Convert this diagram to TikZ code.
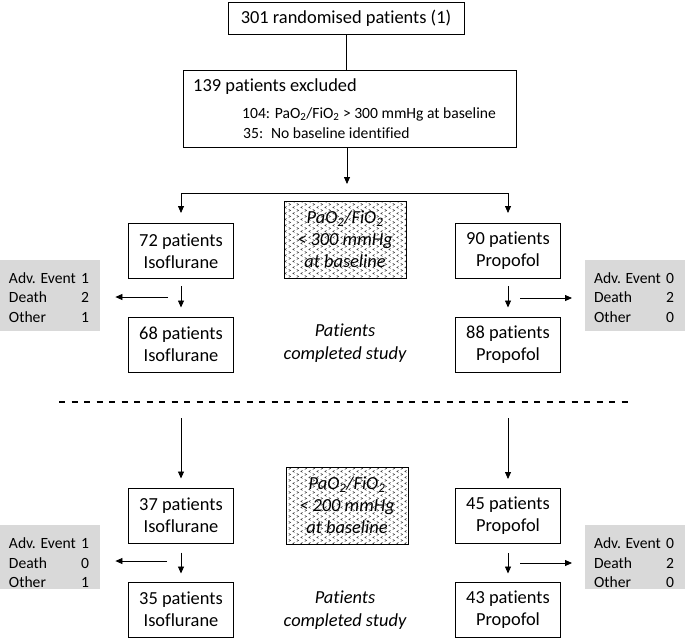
\documentclass[tikz,border=0pt]{standalone}
\usepackage{fontspec}
\setmainfont[Ligatures=NoCommon]{Carlito}
\usetikzlibrary{arrows.meta,patterns}
\pgfdeclarepatternformonly{chev}{\pgfpoint{-1pt}{-1pt}}{\pgfpoint{9pt}{7pt}}{\pgfpoint{8pt}{6pt}}{%
  \pgfsetlinewidth{0.45pt}%
  \pgfpathmoveto{\pgfpoint{0.8pt}{0.6pt}}\pgfpathlineto{\pgfpoint{2.6pt}{1.6pt}}\pgfpathlineto{\pgfpoint{0.8pt}{2.6pt}}%
  \pgfpathmoveto{\pgfpoint{6.6pt}{3.6pt}}\pgfpathlineto{\pgfpoint{4.8pt}{4.6pt}}\pgfpathlineto{\pgfpoint{6.6pt}{5.6pt}}%
  \pgfusepath{stroke}%
}
\newcommand{\grow}[2]{\makebox[80pt]{#1\hfill #2}}
\begin{document}
\begin{tikzpicture}[x=1pt,y=-1pt,
  box/.style={draw, line width=1pt, minimum width=105pt, minimum height=55pt, inner sep=0pt, align=center, font=\fontsize{18.4}{22}\selectfont},
  hatch/.style={draw, line width=0.8pt, pattern=chev, pattern color=black!80, minimum width=122pt, minimum height=77pt, inner sep=0pt, align=center, font=\fontsize{18.4}{22}\selectfont\itshape},
  graybox/.style={fill=black!15, draw=none, inner sep=0pt, anchor=north west},
  gtext/.style={align=left, inner sep=0pt, font=\fontsize{15.6}{19.5}\selectfont},
  ctext/.style={align=center, inner sep=0pt, font=\fontsize{18.4}{23}\selectfont\itshape},
  etext/.style={anchor=base west, inner sep=0pt},
  arr/.style={-{Triangle[length=7pt,width=6pt]}, line width=0.8pt},
  ln/.style={line width=0.8pt}
]
\useasboundingbox (0,0) rectangle (685,638);
\fill[white] (0,0) rectangle (685,638);

% top
\node[box, minimum width=236pt, minimum height=32pt] (top) at (346,18) {301 randomised patients (1)};
\node[box, minimum width=333pt, minimum height=77pt] (excl) at (349.5,108.5) {};
\node[etext, font=\fontsize{18.4}{22}\selectfont] (exh) at (193,91) {139 patients excluded};
\node[etext, font=\fontsize{15.6}{19}\selectfont] (ex1) at (242,118) {104: PaO\textsubscript{2}/FiO\textsubscript{2} > 300 mmHg at baseline};
\node[etext, font=\fontsize{15.6}{19}\selectfont] (ex2) at (243,138) {35:\enspace No baseline identified};

\draw[ln] (top.south) -- (top.south |- excl.north);
\coordinate (a0) at (347,184);
\draw[arr] (excl.south -| a0) -- (a0);
\coordinate (jL) at (181,193);
\coordinate (jR) at (508,193);
\draw[ln] (jL) -- (jR);

% upper section
\node[box] (iso1) at (181,251) {72 patients\\Isoflurane};
\node[box] (pro1) at (508,251) {90 patients\\Propofol};
\node[hatch] (h1) at (345,239.5) {PaO\textsubscript{2}/FiO\textsubscript{2}\\< 300 mmHg\\at baseline};
\node[box] (iso1b) at (181,344.5) {68 patients\\Isoflurane};
\node[box] (pro1b) at (508,344.5) {88 patients\\Propofol};
\node[ctext] (c1) at (345,343.5) {Patients\\completed study};

\draw[arr, shorten >=10pt] (jL) -- (iso1.north);
\draw[arr, shorten >=10pt] (jR) -- (pro1.north);
\draw[arr, shorten <=7pt, shorten >=9pt] (iso1.south) -- (iso1b.north);
\draw[arr, shorten <=7pt, shorten >=9pt] (pro1.south) -- (pro1b.north);

\node[graybox, minimum width=100pt, minimum height=71pt] (gL1) at (0,260) {};
\node[graybox, minimum width=100pt, minimum height=71pt] (gR1) at (585,260) {};
\node[gtext] (tL1) at (49,297.5) {\grow{Adv. Event}{1}\\\grow{Death}{2}\\\grow{Other}{1}};
\node[gtext] (tR1) at (634,297.5) {\grow{Adv. Event}{0}\\\grow{Death}{2}\\\grow{Other}{0}};
\coordinate (sL1) at (168,297);
\coordinate (sR1) at (520,298);
\draw[arr, shorten >=15pt] (sL1) -- (gL1.east |- sL1);
\draw[arr, shorten >=13pt] (sR1) -- (gR1.west |- sR1);

% dashed separator
\coordinate (d1) at (59,402);
\coordinate (d2) at (630,402);
\draw[line width=1.2pt, dash pattern=on 6pt off 6.5pt] (d1) -- (d2);

% lower section
\node[box] (iso2) at (181,515.5) {37 patients\\Isoflurane};
\node[box] (pro2) at (508,516) {45 patients\\Propofol};
\node[hatch] (h2) at (347,505.5) {PaO\textsubscript{2}/FiO\textsubscript{2}\\< 200 mmHg\\at baseline};
\node[box] (iso2b) at (181,609.5) {35 patients\\Isoflurane};
\node[box] (pro2b) at (508,609.5) {43 patients\\Propofol};
\node[ctext] (c2) at (345,610) {Patients\\completed study};

\coordinate (bL) at (181,418);
\coordinate (bR) at (508,418);
\draw[arr, shorten >=9pt] (bL) -- (iso2.north);
\draw[arr, shorten >=9pt] (bR) -- (pro2.north);
\draw[arr, shorten <=9pt, shorten >=8pt] (iso2.south) -- (iso2b.north);
\draw[arr, shorten <=9pt, shorten >=8pt] (pro2.south) -- (pro2b.north);

\node[graybox, minimum width=100pt, minimum height=64pt] (gL2) at (0,525) {};
\node[graybox, minimum width=100pt, minimum height=64pt] (gR2) at (585,525) {};
\node[gtext] (tL2) at (49,563) {\grow{Adv. Event}{1}\\\grow{Death}{0}\\\grow{Other}{1}};
\node[gtext] (tR2) at (634,563) {\grow{Adv. Event}{0}\\\grow{Death}{2}\\\grow{Other}{0}};
\coordinate (sL2) at (167,561);
\coordinate (sR2) at (520,563);
\draw[arr, shorten >=15pt] (sL2) -- (gL2.east |- sL2);
\draw[arr, shorten >=13pt] (sR2) -- (gR2.west |- sR2);
\end{tikzpicture}
\end{document}
